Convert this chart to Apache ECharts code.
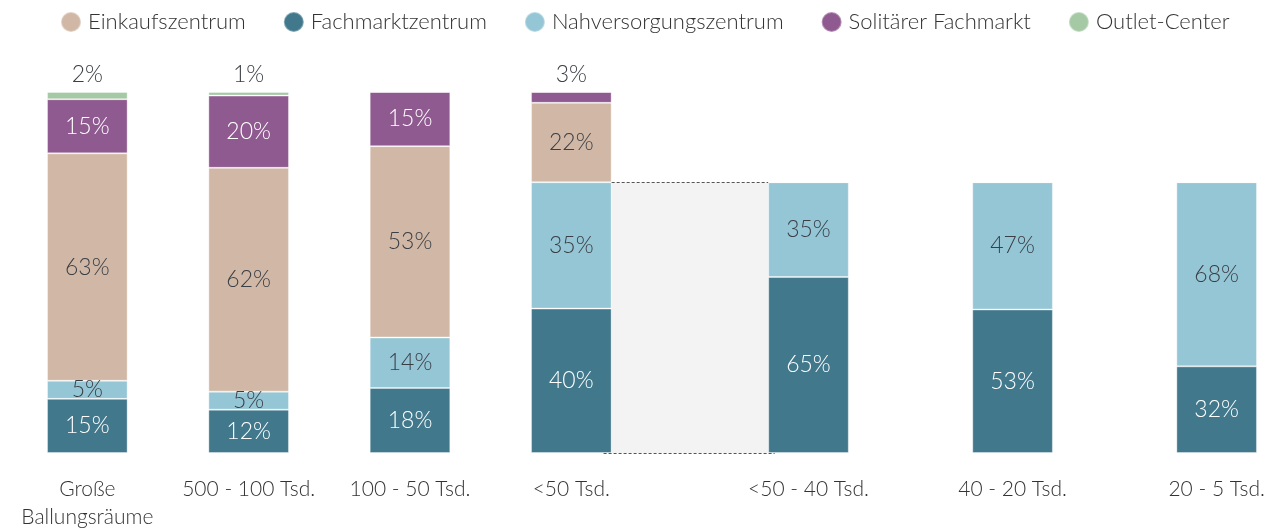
<!DOCTYPE html>
<html>
<head>
<meta charset="utf-8">
<script src="https://cdn.jsdelivr.net/npm/echarts@6/dist/echarts.min.js"></script>
<style>
  html, body { margin: 0; padding: 0; background: #fff; }
  #chart { width: 1277px; height: 531px; }
</style>
</head>
<body>
<div id="chart"></div>
<script>
// categories (town size classes)
const categories = ['Große\nBallungsräume', '500 - 100 Tsd.', '100 - 50 Tsd.', '<50 Tsd.', '<50 - 40 Tsd.', '40 - 20 Tsd.', '20 - 5 Tsd.']

// shares in percent
const fachmarkt = [15, 12, 18, 40, 65, 53, 32]
const nahversorgung = [5, 5, 14, 35, 35, 47, 68]
const einkauf = [63, 62, 53, 22, 0, 0, 0]
const solitaer = [15, 20, 15, 3, 0, 0, 0]
const outlet = [2, 1, 0, 0, 0, 0, 0]

// the last three bars split up the FMZ + NVZ part of "<50 Tsd."
const detailFrom = 4

// layout: bar centres on the x axis (bar width = 1 unit)
const xPos = [1, 3, 5, 7, 9.94, 12.47, 15]

const fontFamily = 'Lato, "Open Sans", sans-serif'
const dark = '#3a3e45'

const detailScale = (fachmarkt[3] + nahversorgung[3]) / 100

function makeSeries(name, values, color, labelColor) {
    const data = values.map((v, i) => {
        const plotted = i >= detailFrom ? v * detailScale : v
        const small = v > 0 && v < 5 && i < detailFrom && name !== 'Nahversorgungszentrum'
        return {
            // value first so that the stack runs on y
            value: [plotted, xPos[i]],
            pct: v,
            label: small ? {position: 'top', color: dark, distance: 6} : {}
        }
    })
    return {
        name,
        type: 'bar',
        stack: 'total',
        barWidth: 80.6,
        encode: {x: 1, y: 0},
        data,
        itemStyle: {
            color,
            borderColor: 'rgba(255,255,255,0.35)',
            borderWidth: 1
        },
        label: {
            show: true,
            position: 'inside',
            color: labelColor,
            fontFamily,
            fontWeight: 300,
            fontSize: 23,
            formatter: p => p.data.pct > 0 ? p.data.pct + '%' : ''
        },
        emphasis: {disabled: true}
    }
}

const series = [
    makeSeries('Fachmarktzentrum', fachmarkt, '#41788c', '#ffffff'),
    makeSeries('Nahversorgungszentrum', nahversorgung, '#95c6d5', dark),
    makeSeries('Einkaufszentrum', einkauf, '#d1b8a6', dark),
    makeSeries('Solitärer Fachmarkt', solitaer, '#8f5a8f', '#ffffff'),
    makeSeries('Outlet-Center', outlet, '#a5c9a5', dark)
]

// shaded gap between "<50 Tsd." and its breakdown
const gapLeft = xPos[3] + 0.5
const gapRight = xPos[detailFrom] - 0.5
const gapTop = fachmarkt[3] + nahversorgung[3]
series[0].markArea = {
    silent: true,
    itemStyle: {color: '#f3f3f3'},
    data: [[{coord: [gapLeft, 0]}, {coord: [gapRight, gapTop]}]]
}
series[0].markLine = {
    silent: true,
    symbol: 'none',
    label: {show: false},
    lineStyle: {color: '#555', type: [3, 2], width: 1},
    data: [
        [{coord: [gapLeft - 0.1, 0]}, {coord: [gapRight + 0.08, 0]}],
        [{coord: [gapLeft, gapTop]}, {coord: [gapRight, gapTop]}]
    ]
}

const myChart = echarts.init(document.getElementById('chart'))

const option = {
    animation: false,
    textStyle: {fontFamily},
    legend: {
        top: 6,
        left: 55,
        icon: 'circle',
        itemWidth: 20,
        itemHeight: 20,
        itemGap: 37,
        data: ['Einkaufszentrum', 'Fachmarktzentrum', 'Nahversorgungszentrum', 'Solitärer Fachmarkt', 'Outlet-Center'],
        textStyle: {fontFamily, fontWeight: 300, fontSize: 22, color: '#333', padding: [0, 0, 0, 2]}
    },
    grid: {
        left: 47,
        right: 20,
        top: 92,
        bottom: 74
    },
    xAxis: {
        type: 'value',
        min: 0.5,
        max: 15.5,
        axisLine: {show: false},
        axisTick: {show: false},
        splitLine: {show: false},
        axisLabel: {
            customValues: xPos,
            margin: 22,
            verticalAlign: 'top',
            lineHeight: 28,
            fontFamily,
            fontWeight: 300,
            fontSize: 21,
            color: '#333',
            formatter: value => {
                const idx = xPos.findIndex(x => Math.abs(x - value) < 1e-6)
                return idx >= 0 ? categories[idx] : ''
            }
        }
    },
    yAxis: {
        type: 'value',
        min: 0,
        max: 100,
        show: false
    },
    series
}

myChart.setOption(option)
</script>
</body>
</html>
